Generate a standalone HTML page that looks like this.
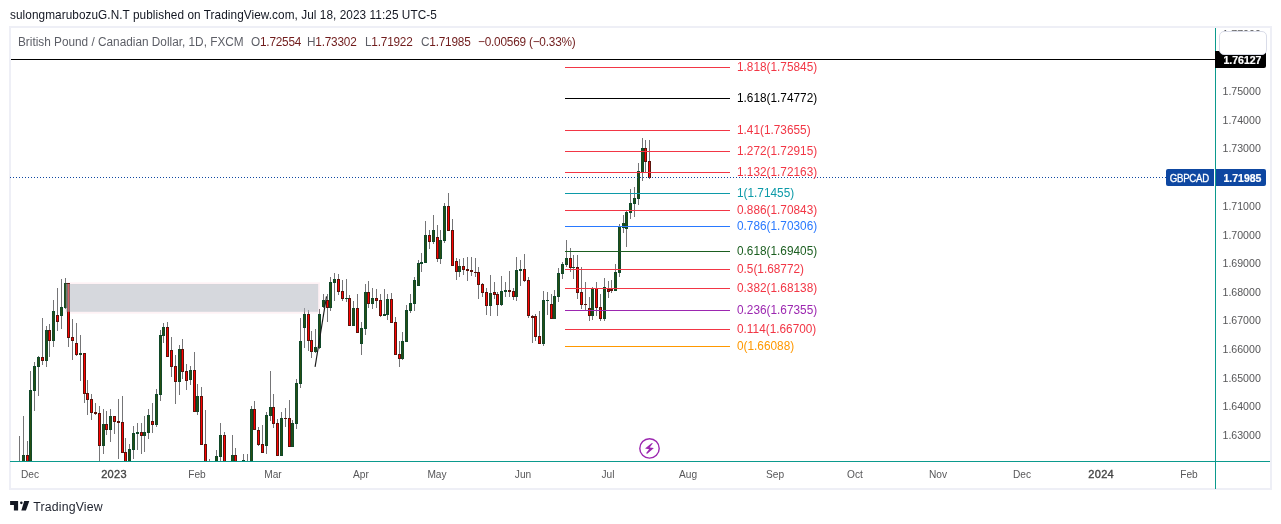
<!DOCTYPE html>
<html><head><meta charset="utf-8"><title>GBPCAD</title>
<style>
html,body{margin:0;padding:0;background:#fff;}
body{width:1281px;height:524px;position:relative;overflow:hidden;font-family:"Liberation Sans",sans-serif;}
div{position:absolute;white-space:nowrap;}
.L{left:0;top:0;width:1281px;height:524px;will-change:transform;}
#hdr{left:10px;top:6.7px;font-size:12.2px;line-height:16px;color:#131722;letter-spacing:0.07px;transform:scaleX(0.967);transform-origin:0 0;}
#frame{left:9px;top:26px;width:1259px;height:460px;border:2px solid #eeeff6;box-sizing:content-box;}
#leg{left:18.3px;top:34.3px;font-size:12.5px;line-height:16px;color:#5c5e66;transform:scaleX(0.944);transform-origin:0 0;}
.lg{top:34.3px;font-size:12.5px;line-height:16px;color:#5c5e66;letter-spacing:-0.22px;transform:scaleX(0.944);transform-origin:0 0;}
.lg span{color:#701c1c;}
.fib{left:736.7px;font-size:12.5px;letter-spacing:0.01px;transform:scaleX(0.944);transform-origin:0 0;margin-top:-0.3px;line-height:16px;height:16px;}
.pl{left:1222.5px;font-size:10.6px;line-height:16px;color:#575759;}
.tl{width:60px;text-align:center;top:466px;font-size:10.7px;line-height:16px;color:#575759;transform:scaleX(0.95);}
.tl.b{font-weight:normal;-webkit-text-stroke:0.35px #444;font-size:11px;letter-spacing:0.3px;color:#444;transform:none;}
#blk{left:1215px;top:51px;width:51px;height:17px;background:#000;border-radius:0 2px 2px 0;color:#fff;font-weight:bold;font-size:10.5px;-webkit-text-stroke:0.22px #fff;line-height:19px;overflow:hidden;}
#blk span{position:absolute;left:8.5px;top:0;}
#cur span{position:absolute;left:7.5px;top:0;}
#wbox{left:1219px;top:31px;width:46px;height:22px;background:#fff;border:1px solid #d9dce8;border-radius:5px;}
#sym{left:1166px;top:169px;width:48px;height:17px;background:#0e47a1;border-radius:2px 0 0 2px;color:#fff;font-size:11px;font-weight:normal;-webkit-text-stroke:0.3px #fff;line-height:18.6px;text-align:center;letter-spacing:-0.3px;padding-right:1.5px;box-sizing:border-box;overflow:hidden;}
#cur{left:1216px;top:169px;width:50px;height:17px;background:#0e47a1;border-radius:0 2px 2px 0;color:#fff;font-weight:bold;font-size:10.5px;-webkit-text-stroke:0.22px #fff;line-height:19px;overflow:hidden;}
#p177{left:1222.5px;top:26.4px;font-size:10.6px;line-height:16px;color:#575759;}
#logo{left:10px;top:500px;}
#lt{left:33.2px;top:498.8px;font-size:12.3px;line-height:16px;color:#1e222d;letter-spacing:0.18px;}
svg{position:absolute;left:0;top:0;}
</style></head><body>
<div class="L"><div id="hdr">sulongmarubozuG.N.T published on TradingView.com, Jul 18, 2023 11:25 UTC-5</div>
<div id="frame"></div>
<div id="leg">British Pound / Canadian Dollar, 1D, FXCM</div>
<div class="lg" style="left:250.7px">O<span>1.72554</span></div>
<div class="lg" style="left:307.4px">H<span>1.73302</span></div>
<div class="lg" style="left:364.6px">L<span>1.71922</span></div>
<div class="lg" style="left:420.7px">C<span>1.71985</span></div>
<div class="lg" style="left:477.6px"><span>&minus;0.00569 (&minus;0.33%)</span></div></div>
<svg width="1281" height="524" viewBox="0 0 1281 524" shape-rendering="crispEdges">
<!-- grey zone -->

<g id="candles">
<rect x="19" y="436" width="1" height="25" fill="#757577"/>
<rect x="23" y="416" width="1" height="45" fill="#757577"/>
<rect x="22" y="455" width="3" height="6" fill="#10492a"/>
<rect x="23" y="456" width="1" height="5" fill="#274f12"/>
<rect x="27" y="441" width="1" height="20" fill="#757577"/>
<rect x="26" y="455" width="3" height="6" fill="#5c140c"/>
<rect x="27" y="456" width="1" height="5" fill="#ff0000"/>
<rect x="30" y="371" width="1" height="90" fill="#757577"/>
<rect x="29" y="390" width="3" height="71" fill="#10492a"/>
<rect x="30" y="391" width="1" height="70" fill="#274f12"/>
<rect x="34" y="362" width="1" height="49" fill="#757577"/>
<rect x="33" y="366" width="3" height="25" fill="#10492a"/>
<rect x="34" y="367" width="1" height="23" fill="#274f12"/>
<rect x="38" y="356" width="1" height="40" fill="#757577"/>
<rect x="37" y="357" width="3" height="10" fill="#10492a"/>
<rect x="38" y="358" width="1" height="8" fill="#274f12"/>
<rect x="42" y="318" width="1" height="47" fill="#757577"/>
<rect x="41" y="357" width="3" height="4" fill="#5c140c"/>
<rect x="42" y="358" width="1" height="2" fill="#ff0000"/>
<rect x="46" y="326" width="1" height="41" fill="#757577"/>
<rect x="45" y="330" width="3" height="31" fill="#10492a"/>
<rect x="46" y="331" width="1" height="29" fill="#274f12"/>
<rect x="49" y="324" width="1" height="33" fill="#757577"/>
<rect x="48" y="330" width="3" height="11" fill="#5c140c"/>
<rect x="49" y="331" width="1" height="9" fill="#ff0000"/>
<rect x="53" y="300" width="1" height="47" fill="#757577"/>
<rect x="52" y="311" width="3" height="30" fill="#10492a"/>
<rect x="53" y="312" width="1" height="28" fill="#274f12"/>
<rect x="57" y="288" width="1" height="43" fill="#757577"/>
<rect x="56" y="315" width="3" height="7" fill="#5c140c"/>
<rect x="57" y="316" width="1" height="5" fill="#ff0000"/>
<rect x="61" y="279" width="1" height="50" fill="#757577"/>
<rect x="60" y="307" width="3" height="9" fill="#10492a"/>
<rect x="61" y="308" width="1" height="7" fill="#274f12"/>
<rect x="65" y="278" width="1" height="31" fill="#757577"/>
<rect x="64" y="283" width="3" height="25" fill="#10492a"/>
<rect x="65" y="284" width="1" height="23" fill="#274f12"/>
<rect x="68" y="283" width="1" height="64" fill="#757577"/>
<rect x="67" y="283" width="3" height="55" fill="#5c140c"/>
<rect x="68" y="284" width="1" height="53" fill="#ff0000"/>
<rect x="72" y="319" width="1" height="41" fill="#757577"/>
<rect x="71" y="337" width="3" height="4" fill="#5c140c"/>
<rect x="72" y="338" width="1" height="2" fill="#ff0000"/>
<rect x="76" y="323" width="1" height="33" fill="#757577"/>
<rect x="75" y="343" width="3" height="12" fill="#5c140c"/>
<rect x="76" y="344" width="1" height="10" fill="#ff0000"/>
<rect x="80" y="335" width="1" height="46" fill="#757577"/>
<rect x="79" y="353" width="3" height="2" fill="#10492a"/>
<rect x="84" y="353" width="1" height="50" fill="#757577"/>
<rect x="83" y="353" width="3" height="41" fill="#5c140c"/>
<rect x="84" y="354" width="1" height="39" fill="#ff0000"/>
<rect x="87" y="380" width="1" height="35" fill="#757577"/>
<rect x="86" y="393" width="3" height="7" fill="#5c140c"/>
<rect x="87" y="394" width="1" height="5" fill="#ff0000"/>
<rect x="91" y="394" width="1" height="26" fill="#757577"/>
<rect x="90" y="399" width="3" height="14" fill="#5c140c"/>
<rect x="91" y="400" width="1" height="12" fill="#ff0000"/>
<rect x="95" y="403" width="1" height="12" fill="#757577"/>
<rect x="94" y="412" width="3" height="2" fill="#5c140c"/>
<rect x="99" y="406" width="1" height="55" fill="#757577"/>
<rect x="98" y="413" width="3" height="33" fill="#5c140c"/>
<rect x="99" y="414" width="1" height="31" fill="#ff0000"/>
<rect x="103" y="409" width="1" height="45" fill="#757577"/>
<rect x="102" y="424" width="3" height="22" fill="#10492a"/>
<rect x="103" y="425" width="1" height="20" fill="#274f12"/>
<rect x="106" y="411" width="1" height="24" fill="#757577"/>
<rect x="105" y="424" width="3" height="6" fill="#5c140c"/>
<rect x="106" y="425" width="1" height="4" fill="#ff0000"/>
<rect x="110" y="409" width="1" height="33" fill="#757577"/>
<rect x="109" y="416" width="3" height="14" fill="#10492a"/>
<rect x="110" y="417" width="1" height="12" fill="#274f12"/>
<rect x="114" y="416" width="1" height="18" fill="#757577"/>
<rect x="113" y="416" width="3" height="6" fill="#5c140c"/>
<rect x="114" y="417" width="1" height="4" fill="#ff0000"/>
<rect x="118" y="399" width="1" height="60" fill="#757577"/>
<rect x="117" y="421" width="3" height="2" fill="#5c140c"/>
<rect x="122" y="396" width="1" height="57" fill="#757577"/>
<rect x="121" y="422" width="3" height="31" fill="#5c140c"/>
<rect x="122" y="423" width="1" height="29" fill="#ff0000"/>
<rect x="125" y="438" width="1" height="23" fill="#757577"/>
<rect x="124" y="452" width="3" height="9" fill="#5c140c"/>
<rect x="125" y="453" width="1" height="8" fill="#ff0000"/>
<rect x="129" y="444" width="1" height="17" fill="#757577"/>
<rect x="128" y="449" width="3" height="12" fill="#10492a"/>
<rect x="129" y="450" width="1" height="11" fill="#274f12"/>
<rect x="133" y="426" width="1" height="33" fill="#757577"/>
<rect x="132" y="433" width="3" height="17" fill="#10492a"/>
<rect x="133" y="434" width="1" height="15" fill="#274f12"/>
<rect x="137" y="423" width="1" height="27" fill="#757577"/>
<rect x="136" y="432" width="3" height="2" fill="#10492a"/>
<rect x="141" y="423" width="1" height="31" fill="#757577"/>
<rect x="140" y="432" width="3" height="4" fill="#5c140c"/>
<rect x="141" y="433" width="1" height="2" fill="#ff0000"/>
<rect x="144" y="416" width="1" height="36" fill="#757577"/>
<rect x="143" y="432" width="3" height="4" fill="#10492a"/>
<rect x="144" y="433" width="1" height="2" fill="#274f12"/>
<rect x="148" y="409" width="1" height="30" fill="#757577"/>
<rect x="147" y="415" width="3" height="18" fill="#10492a"/>
<rect x="148" y="416" width="1" height="16" fill="#274f12"/>
<rect x="152" y="403" width="1" height="30" fill="#757577"/>
<rect x="151" y="421" width="3" height="4" fill="#5c140c"/>
<rect x="152" y="422" width="1" height="2" fill="#ff0000"/>
<rect x="156" y="389" width="1" height="38" fill="#757577"/>
<rect x="155" y="394" width="3" height="31" fill="#10492a"/>
<rect x="156" y="395" width="1" height="29" fill="#274f12"/>
<rect x="160" y="330" width="1" height="71" fill="#757577"/>
<rect x="159" y="335" width="3" height="60" fill="#10492a"/>
<rect x="160" y="336" width="1" height="58" fill="#274f12"/>
<rect x="163" y="323" width="1" height="20" fill="#757577"/>
<rect x="162" y="327" width="3" height="9" fill="#10492a"/>
<rect x="163" y="328" width="1" height="7" fill="#274f12"/>
<rect x="167" y="322" width="1" height="35" fill="#757577"/>
<rect x="166" y="327" width="3" height="30" fill="#5c140c"/>
<rect x="167" y="328" width="1" height="28" fill="#ff0000"/>
<rect x="171" y="337" width="1" height="40" fill="#757577"/>
<rect x="170" y="350" width="3" height="17" fill="#5c140c"/>
<rect x="171" y="351" width="1" height="15" fill="#ff0000"/>
<rect x="175" y="355" width="1" height="49" fill="#757577"/>
<rect x="174" y="366" width="3" height="16" fill="#5c140c"/>
<rect x="175" y="367" width="1" height="14" fill="#ff0000"/>
<rect x="179" y="345" width="1" height="50" fill="#757577"/>
<rect x="178" y="349" width="3" height="33" fill="#10492a"/>
<rect x="179" y="350" width="1" height="31" fill="#274f12"/>
<rect x="182" y="339" width="1" height="40" fill="#757577"/>
<rect x="181" y="349" width="3" height="23" fill="#5c140c"/>
<rect x="182" y="350" width="1" height="21" fill="#ff0000"/>
<rect x="186" y="364" width="1" height="26" fill="#757577"/>
<rect x="185" y="371" width="3" height="10" fill="#5c140c"/>
<rect x="186" y="372" width="1" height="8" fill="#ff0000"/>
<rect x="190" y="366" width="1" height="19" fill="#757577"/>
<rect x="189" y="370" width="3" height="10" fill="#10492a"/>
<rect x="190" y="371" width="1" height="8" fill="#274f12"/>
<rect x="194" y="352" width="1" height="60" fill="#757577"/>
<rect x="193" y="370" width="3" height="42" fill="#5c140c"/>
<rect x="194" y="371" width="1" height="40" fill="#ff0000"/>
<rect x="197" y="384" width="1" height="31" fill="#757577"/>
<rect x="196" y="396" width="3" height="16" fill="#10492a"/>
<rect x="197" y="397" width="1" height="14" fill="#274f12"/>
<rect x="201" y="387" width="1" height="58" fill="#757577"/>
<rect x="200" y="396" width="3" height="49" fill="#5c140c"/>
<rect x="201" y="397" width="1" height="47" fill="#ff0000"/>
<rect x="205" y="410" width="1" height="51" fill="#757577"/>
<rect x="204" y="444" width="3" height="17" fill="#5c140c"/>
<rect x="205" y="445" width="1" height="16" fill="#ff0000"/>
<rect x="209" y="459" width="1" height="2" fill="#757577"/>
<rect x="216" y="450" width="1" height="11" fill="#757577"/>
<rect x="215" y="456" width="3" height="5" fill="#10492a"/>
<rect x="216" y="457" width="1" height="4" fill="#274f12"/>
<rect x="220" y="423" width="1" height="38" fill="#757577"/>
<rect x="219" y="435" width="3" height="22" fill="#10492a"/>
<rect x="220" y="436" width="1" height="20" fill="#274f12"/>
<rect x="224" y="432" width="1" height="29" fill="#757577"/>
<rect x="223" y="435" width="3" height="26" fill="#5c140c"/>
<rect x="224" y="436" width="1" height="25" fill="#ff0000"/>
<rect x="232" y="435" width="1" height="26" fill="#757577"/>
<rect x="231" y="455" width="3" height="6" fill="#10492a"/>
<rect x="232" y="456" width="1" height="5" fill="#274f12"/>
<rect x="235" y="448" width="1" height="13" fill="#757577"/>
<rect x="234" y="455" width="3" height="6" fill="#5c140c"/>
<rect x="235" y="456" width="1" height="5" fill="#ff0000"/>
<rect x="243" y="454" width="1" height="7" fill="#757577"/>
<rect x="242" y="460" width="3" height="1" fill="#10492a"/>
<rect x="247" y="454" width="1" height="7" fill="#757577"/>
<rect x="251" y="406" width="1" height="55" fill="#757577"/>
<rect x="250" y="409" width="3" height="52" fill="#10492a"/>
<rect x="251" y="410" width="1" height="51" fill="#274f12"/>
<rect x="254" y="401" width="1" height="29" fill="#757577"/>
<rect x="253" y="409" width="3" height="21" fill="#5c140c"/>
<rect x="254" y="410" width="1" height="19" fill="#ff0000"/>
<rect x="258" y="427" width="1" height="19" fill="#757577"/>
<rect x="257" y="430" width="3" height="15" fill="#5c140c"/>
<rect x="258" y="431" width="1" height="13" fill="#ff0000"/>
<rect x="262" y="425" width="1" height="28" fill="#757577"/>
<rect x="261" y="444" width="3" height="9" fill="#5c140c"/>
<rect x="262" y="445" width="1" height="7" fill="#ff0000"/>
<rect x="266" y="412" width="1" height="42" fill="#757577"/>
<rect x="265" y="415" width="3" height="31" fill="#10492a"/>
<rect x="266" y="416" width="1" height="29" fill="#274f12"/>
<rect x="270" y="371" width="1" height="50" fill="#757577"/>
<rect x="269" y="407" width="3" height="9" fill="#10492a"/>
<rect x="270" y="408" width="1" height="7" fill="#274f12"/>
<rect x="273" y="394" width="1" height="34" fill="#757577"/>
<rect x="272" y="407" width="3" height="17" fill="#5c140c"/>
<rect x="273" y="408" width="1" height="15" fill="#ff0000"/>
<rect x="277" y="419" width="1" height="37" fill="#757577"/>
<rect x="276" y="423" width="3" height="33" fill="#5c140c"/>
<rect x="277" y="424" width="1" height="31" fill="#ff0000"/>
<rect x="281" y="412" width="1" height="44" fill="#757577"/>
<rect x="280" y="418" width="3" height="38" fill="#10492a"/>
<rect x="281" y="419" width="1" height="36" fill="#274f12"/>
<rect x="285" y="408" width="1" height="19" fill="#757577"/>
<rect x="284" y="418" width="3" height="1" fill="#5c140c"/>
<rect x="289" y="400" width="1" height="47" fill="#757577"/>
<rect x="288" y="418" width="3" height="29" fill="#5c140c"/>
<rect x="289" y="419" width="1" height="27" fill="#ff0000"/>
<rect x="292" y="420" width="1" height="27" fill="#757577"/>
<rect x="291" y="423" width="3" height="24" fill="#10492a"/>
<rect x="292" y="424" width="1" height="22" fill="#274f12"/>
<rect x="296" y="379" width="1" height="50" fill="#757577"/>
<rect x="295" y="383" width="3" height="41" fill="#10492a"/>
<rect x="296" y="384" width="1" height="39" fill="#274f12"/>
<rect x="300" y="318" width="1" height="70" fill="#757577"/>
<rect x="299" y="341" width="3" height="43" fill="#10492a"/>
<rect x="300" y="342" width="1" height="41" fill="#274f12"/>
<rect x="304" y="308" width="1" height="40" fill="#757577"/>
<rect x="303" y="314" width="3" height="14" fill="#10492a"/>
<rect x="304" y="315" width="1" height="12" fill="#274f12"/>
<rect x="308" y="310" width="1" height="41" fill="#757577"/>
<rect x="307" y="314" width="3" height="27" fill="#5c140c"/>
<rect x="308" y="315" width="1" height="25" fill="#ff0000"/>
<rect x="311" y="331" width="1" height="27" fill="#757577"/>
<rect x="310" y="340" width="3" height="12" fill="#5c140c"/>
<rect x="311" y="341" width="1" height="10" fill="#ff0000"/>
<rect x="315" y="329" width="1" height="24" fill="#757577"/>
<rect x="314" y="347" width="3" height="5" fill="#10492a"/>
<rect x="315" y="348" width="1" height="3" fill="#274f12"/>
<rect x="319" y="309" width="1" height="40" fill="#757577"/>
<rect x="318" y="314" width="3" height="34" fill="#10492a"/>
<rect x="319" y="315" width="1" height="32" fill="#274f12"/>
<rect x="323" y="294" width="1" height="14" fill="#757577"/>
<rect x="322" y="300" width="3" height="7" fill="#10492a"/>
<rect x="323" y="301" width="1" height="5" fill="#274f12"/>
<rect x="327" y="294" width="1" height="28" fill="#757577"/>
<rect x="326" y="300" width="3" height="8" fill="#5c140c"/>
<rect x="327" y="301" width="1" height="6" fill="#ff0000"/>
<rect x="330" y="277" width="1" height="34" fill="#757577"/>
<rect x="329" y="282" width="3" height="26" fill="#10492a"/>
<rect x="330" y="283" width="1" height="24" fill="#274f12"/>
<rect x="334" y="273" width="1" height="28" fill="#757577"/>
<rect x="333" y="279" width="3" height="4" fill="#10492a"/>
<rect x="334" y="280" width="1" height="2" fill="#274f12"/>
<rect x="338" y="274" width="1" height="21" fill="#757577"/>
<rect x="337" y="279" width="3" height="13" fill="#5c140c"/>
<rect x="338" y="280" width="1" height="11" fill="#ff0000"/>
<rect x="342" y="280" width="1" height="21" fill="#757577"/>
<rect x="341" y="291" width="3" height="8" fill="#5c140c"/>
<rect x="342" y="292" width="1" height="6" fill="#ff0000"/>
<rect x="346" y="279" width="1" height="23" fill="#757577"/>
<rect x="345" y="298" width="3" height="1" fill="#10492a"/>
<rect x="349" y="295" width="1" height="31" fill="#757577"/>
<rect x="348" y="298" width="3" height="28" fill="#5c140c"/>
<rect x="349" y="299" width="1" height="26" fill="#ff0000"/>
<rect x="353" y="301" width="1" height="25" fill="#757577"/>
<rect x="352" y="308" width="3" height="18" fill="#10492a"/>
<rect x="353" y="309" width="1" height="16" fill="#274f12"/>
<rect x="357" y="294" width="1" height="39" fill="#757577"/>
<rect x="356" y="308" width="3" height="25" fill="#5c140c"/>
<rect x="357" y="309" width="1" height="23" fill="#ff0000"/>
<rect x="361" y="322" width="1" height="33" fill="#757577"/>
<rect x="360" y="328" width="3" height="16" fill="#10492a"/>
<rect x="361" y="329" width="1" height="14" fill="#274f12"/>
<rect x="365" y="284" width="1" height="51" fill="#757577"/>
<rect x="364" y="292" width="3" height="37" fill="#10492a"/>
<rect x="365" y="293" width="1" height="35" fill="#274f12"/>
<rect x="368" y="281" width="1" height="27" fill="#757577"/>
<rect x="367" y="292" width="3" height="12" fill="#5c140c"/>
<rect x="368" y="293" width="1" height="10" fill="#ff0000"/>
<rect x="372" y="288" width="1" height="21" fill="#757577"/>
<rect x="371" y="298" width="3" height="6" fill="#10492a"/>
<rect x="372" y="299" width="1" height="4" fill="#274f12"/>
<rect x="376" y="289" width="1" height="19" fill="#757577"/>
<rect x="375" y="298" width="3" height="3" fill="#5c140c"/>
<rect x="376" y="299" width="1" height="1" fill="#ff0000"/>
<rect x="380" y="294" width="1" height="23" fill="#757577"/>
<rect x="379" y="300" width="3" height="16" fill="#5c140c"/>
<rect x="380" y="301" width="1" height="14" fill="#ff0000"/>
<rect x="384" y="289" width="1" height="27" fill="#757577"/>
<rect x="383" y="314" width="3" height="2" fill="#10492a"/>
<rect x="387" y="294" width="1" height="26" fill="#757577"/>
<rect x="386" y="299" width="3" height="16" fill="#10492a"/>
<rect x="387" y="300" width="1" height="14" fill="#274f12"/>
<rect x="391" y="293" width="1" height="30" fill="#757577"/>
<rect x="390" y="299" width="3" height="24" fill="#5c140c"/>
<rect x="391" y="300" width="1" height="22" fill="#ff0000"/>
<rect x="395" y="317" width="1" height="38" fill="#757577"/>
<rect x="394" y="322" width="3" height="33" fill="#5c140c"/>
<rect x="395" y="323" width="1" height="31" fill="#ff0000"/>
<rect x="399" y="341" width="1" height="26" fill="#757577"/>
<rect x="398" y="354" width="3" height="5" fill="#5c140c"/>
<rect x="399" y="355" width="1" height="3" fill="#ff0000"/>
<rect x="402" y="332" width="1" height="28" fill="#757577"/>
<rect x="401" y="341" width="3" height="18" fill="#10492a"/>
<rect x="402" y="342" width="1" height="16" fill="#274f12"/>
<rect x="406" y="305" width="1" height="37" fill="#757577"/>
<rect x="405" y="310" width="3" height="32" fill="#10492a"/>
<rect x="406" y="311" width="1" height="30" fill="#274f12"/>
<rect x="410" y="294" width="1" height="19" fill="#757577"/>
<rect x="409" y="303" width="3" height="8" fill="#10492a"/>
<rect x="410" y="304" width="1" height="6" fill="#274f12"/>
<rect x="414" y="277" width="1" height="34" fill="#757577"/>
<rect x="413" y="280" width="3" height="24" fill="#10492a"/>
<rect x="414" y="281" width="1" height="22" fill="#274f12"/>
<rect x="418" y="260" width="1" height="26" fill="#757577"/>
<rect x="417" y="263" width="3" height="23" fill="#10492a"/>
<rect x="418" y="264" width="1" height="21" fill="#274f12"/>
<rect x="421" y="253" width="1" height="19" fill="#757577"/>
<rect x="420" y="262" width="3" height="2" fill="#10492a"/>
<rect x="425" y="221" width="1" height="42" fill="#757577"/>
<rect x="424" y="235" width="3" height="28" fill="#10492a"/>
<rect x="425" y="236" width="1" height="26" fill="#274f12"/>
<rect x="429" y="230" width="1" height="19" fill="#757577"/>
<rect x="428" y="235" width="3" height="7" fill="#5c140c"/>
<rect x="429" y="236" width="1" height="5" fill="#ff0000"/>
<rect x="433" y="215" width="1" height="29" fill="#757577"/>
<rect x="432" y="230" width="3" height="12" fill="#10492a"/>
<rect x="433" y="231" width="1" height="10" fill="#274f12"/>
<rect x="437" y="225" width="1" height="37" fill="#757577"/>
<rect x="436" y="237" width="3" height="22" fill="#5c140c"/>
<rect x="437" y="238" width="1" height="20" fill="#ff0000"/>
<rect x="440" y="230" width="1" height="34" fill="#757577"/>
<rect x="439" y="240" width="3" height="19" fill="#10492a"/>
<rect x="440" y="241" width="1" height="17" fill="#274f12"/>
<rect x="444" y="203" width="1" height="40" fill="#757577"/>
<rect x="443" y="206" width="3" height="35" fill="#10492a"/>
<rect x="444" y="207" width="1" height="33" fill="#274f12"/>
<rect x="448" y="193" width="1" height="38" fill="#757577"/>
<rect x="447" y="206" width="3" height="25" fill="#5c140c"/>
<rect x="448" y="207" width="1" height="23" fill="#ff0000"/>
<rect x="452" y="219" width="1" height="47" fill="#757577"/>
<rect x="451" y="230" width="3" height="36" fill="#5c140c"/>
<rect x="452" y="231" width="1" height="34" fill="#ff0000"/>
<rect x="456" y="258" width="1" height="22" fill="#757577"/>
<rect x="455" y="261" width="3" height="11" fill="#5c140c"/>
<rect x="456" y="262" width="1" height="9" fill="#ff0000"/>
<rect x="459" y="259" width="1" height="18" fill="#757577"/>
<rect x="458" y="266" width="3" height="6" fill="#10492a"/>
<rect x="459" y="267" width="1" height="4" fill="#274f12"/>
<rect x="463" y="258" width="1" height="17" fill="#757577"/>
<rect x="462" y="266" width="3" height="4" fill="#5c140c"/>
<rect x="463" y="267" width="1" height="2" fill="#ff0000"/>
<rect x="467" y="257" width="1" height="24" fill="#757577"/>
<rect x="466" y="269" width="3" height="2" fill="#5c140c"/>
<rect x="471" y="257" width="1" height="19" fill="#757577"/>
<rect x="470" y="270" width="3" height="2" fill="#5c140c"/>
<rect x="475" y="258" width="1" height="19" fill="#757577"/>
<rect x="474" y="272" width="3" height="1" fill="#5c140c"/>
<rect x="478" y="267" width="1" height="32" fill="#757577"/>
<rect x="477" y="272" width="3" height="13" fill="#5c140c"/>
<rect x="478" y="273" width="1" height="11" fill="#ff0000"/>
<rect x="482" y="283" width="1" height="14" fill="#757577"/>
<rect x="481" y="284" width="3" height="9" fill="#5c140c"/>
<rect x="482" y="285" width="1" height="7" fill="#ff0000"/>
<rect x="486" y="288" width="1" height="27" fill="#757577"/>
<rect x="485" y="292" width="3" height="14" fill="#5c140c"/>
<rect x="486" y="293" width="1" height="12" fill="#ff0000"/>
<rect x="490" y="275" width="1" height="41" fill="#757577"/>
<rect x="489" y="293" width="3" height="13" fill="#10492a"/>
<rect x="490" y="294" width="1" height="11" fill="#274f12"/>
<rect x="494" y="282" width="1" height="17" fill="#757577"/>
<rect x="493" y="292" width="3" height="3" fill="#5c140c"/>
<rect x="494" y="293" width="1" height="1" fill="#ff0000"/>
<rect x="497" y="292" width="1" height="24" fill="#757577"/>
<rect x="496" y="294" width="3" height="11" fill="#5c140c"/>
<rect x="497" y="295" width="1" height="9" fill="#ff0000"/>
<rect x="501" y="276" width="1" height="30" fill="#757577"/>
<rect x="500" y="291" width="3" height="14" fill="#10492a"/>
<rect x="501" y="292" width="1" height="12" fill="#274f12"/>
<rect x="505" y="282" width="1" height="15" fill="#757577"/>
<rect x="504" y="290" width="3" height="2" fill="#10492a"/>
<rect x="509" y="271" width="1" height="26" fill="#757577"/>
<rect x="508" y="290" width="3" height="2" fill="#5c140c"/>
<rect x="513" y="288" width="1" height="12" fill="#757577"/>
<rect x="512" y="291" width="3" height="6" fill="#5c140c"/>
<rect x="513" y="292" width="1" height="4" fill="#ff0000"/>
<rect x="516" y="257" width="1" height="44" fill="#757577"/>
<rect x="515" y="270" width="3" height="27" fill="#10492a"/>
<rect x="516" y="271" width="1" height="25" fill="#274f12"/>
<rect x="520" y="260" width="1" height="26" fill="#757577"/>
<rect x="519" y="269" width="3" height="2" fill="#10492a"/>
<rect x="524" y="254" width="1" height="28" fill="#757577"/>
<rect x="523" y="269" width="3" height="12" fill="#5c140c"/>
<rect x="524" y="270" width="1" height="10" fill="#ff0000"/>
<rect x="528" y="277" width="1" height="41" fill="#757577"/>
<rect x="527" y="280" width="3" height="36" fill="#5c140c"/>
<rect x="528" y="281" width="1" height="34" fill="#ff0000"/>
<rect x="532" y="315" width="1" height="28" fill="#757577"/>
<rect x="531" y="316" width="3" height="2" fill="#5c140c"/>
<rect x="535" y="314" width="1" height="27" fill="#757577"/>
<rect x="534" y="316" width="3" height="21" fill="#5c140c"/>
<rect x="535" y="317" width="1" height="19" fill="#ff0000"/>
<rect x="539" y="311" width="1" height="33" fill="#757577"/>
<rect x="538" y="336" width="3" height="8" fill="#5c140c"/>
<rect x="539" y="337" width="1" height="6" fill="#ff0000"/>
<rect x="543" y="291" width="1" height="55" fill="#757577"/>
<rect x="542" y="300" width="3" height="44" fill="#10492a"/>
<rect x="543" y="301" width="1" height="42" fill="#274f12"/>
<rect x="547" y="292" width="1" height="23" fill="#757577"/>
<rect x="546" y="300" width="3" height="1" fill="#10492a"/>
<rect x="551" y="294" width="1" height="25" fill="#757577"/>
<rect x="550" y="304" width="3" height="15" fill="#5c140c"/>
<rect x="551" y="305" width="1" height="13" fill="#ff0000"/>
<rect x="554" y="290" width="1" height="29" fill="#757577"/>
<rect x="553" y="296" width="3" height="23" fill="#10492a"/>
<rect x="554" y="297" width="1" height="21" fill="#274f12"/>
<rect x="558" y="268" width="1" height="34" fill="#757577"/>
<rect x="557" y="273" width="3" height="24" fill="#10492a"/>
<rect x="558" y="274" width="1" height="22" fill="#274f12"/>
<rect x="562" y="262" width="1" height="17" fill="#757577"/>
<rect x="561" y="264" width="3" height="10" fill="#10492a"/>
<rect x="562" y="265" width="1" height="8" fill="#274f12"/>
<rect x="566" y="240" width="1" height="27" fill="#757577"/>
<rect x="565" y="258" width="3" height="7" fill="#10492a"/>
<rect x="566" y="259" width="1" height="5" fill="#274f12"/>
<rect x="570" y="248" width="1" height="24" fill="#757577"/>
<rect x="569" y="258" width="3" height="10" fill="#5c140c"/>
<rect x="570" y="259" width="1" height="8" fill="#ff0000"/>
<rect x="573" y="255" width="1" height="24" fill="#757577"/>
<rect x="572" y="267" width="3" height="1" fill="#10492a"/>
<rect x="577" y="255" width="1" height="44" fill="#757577"/>
<rect x="576" y="267" width="3" height="26" fill="#5c140c"/>
<rect x="577" y="268" width="1" height="24" fill="#ff0000"/>
<rect x="581" y="267" width="1" height="42" fill="#757577"/>
<rect x="580" y="292" width="3" height="13" fill="#5c140c"/>
<rect x="581" y="293" width="1" height="11" fill="#ff0000"/>
<rect x="585" y="282" width="1" height="28" fill="#757577"/>
<rect x="584" y="304" width="3" height="1" fill="#5c140c"/>
<rect x="589" y="297" width="1" height="24" fill="#757577"/>
<rect x="588" y="308" width="3" height="8" fill="#5c140c"/>
<rect x="589" y="309" width="1" height="6" fill="#ff0000"/>
<rect x="592" y="287" width="1" height="33" fill="#757577"/>
<rect x="591" y="288" width="3" height="28" fill="#10492a"/>
<rect x="592" y="289" width="1" height="26" fill="#274f12"/>
<rect x="596" y="282" width="1" height="34" fill="#757577"/>
<rect x="595" y="288" width="3" height="20" fill="#5c140c"/>
<rect x="596" y="289" width="1" height="18" fill="#ff0000"/>
<rect x="600" y="294" width="1" height="27" fill="#757577"/>
<rect x="599" y="307" width="3" height="12" fill="#5c140c"/>
<rect x="600" y="308" width="1" height="10" fill="#ff0000"/>
<rect x="604" y="278" width="1" height="43" fill="#757577"/>
<rect x="603" y="287" width="3" height="32" fill="#10492a"/>
<rect x="604" y="288" width="1" height="30" fill="#274f12"/>
<rect x="608" y="281" width="1" height="17" fill="#757577"/>
<rect x="607" y="289" width="3" height="3" fill="#5c140c"/>
<rect x="608" y="290" width="1" height="1" fill="#ff0000"/>
<rect x="611" y="280" width="1" height="13" fill="#757577"/>
<rect x="610" y="289" width="3" height="2" fill="#5c140c"/>
<rect x="615" y="264" width="1" height="27" fill="#757577"/>
<rect x="614" y="272" width="3" height="19" fill="#10492a"/>
<rect x="615" y="273" width="1" height="17" fill="#274f12"/>
<rect x="619" y="224" width="1" height="53" fill="#757577"/>
<rect x="618" y="226" width="3" height="47" fill="#10492a"/>
<rect x="619" y="227" width="1" height="45" fill="#274f12"/>
<rect x="623" y="215" width="1" height="18" fill="#757577"/>
<rect x="622" y="223" width="3" height="5" fill="#10492a"/>
<rect x="623" y="224" width="1" height="3" fill="#274f12"/>
<rect x="626" y="210" width="1" height="37" fill="#757577"/>
<rect x="625" y="212" width="3" height="17" fill="#10492a"/>
<rect x="626" y="213" width="1" height="15" fill="#274f12"/>
<rect x="630" y="189" width="1" height="30" fill="#757577"/>
<rect x="629" y="203" width="3" height="10" fill="#10492a"/>
<rect x="630" y="204" width="1" height="8" fill="#274f12"/>
<rect x="634" y="187" width="1" height="30" fill="#757577"/>
<rect x="633" y="198" width="3" height="6" fill="#10492a"/>
<rect x="634" y="199" width="1" height="4" fill="#274f12"/>
<rect x="638" y="163" width="1" height="42" fill="#757577"/>
<rect x="637" y="171" width="3" height="28" fill="#10492a"/>
<rect x="638" y="172" width="1" height="26" fill="#274f12"/>
<rect x="642" y="138" width="1" height="43" fill="#757577"/>
<rect x="641" y="148" width="3" height="24" fill="#10492a"/>
<rect x="642" y="149" width="1" height="22" fill="#274f12"/>
<rect x="645" y="140" width="1" height="32" fill="#757577"/>
<rect x="644" y="148" width="3" height="14" fill="#5c140c"/>
<rect x="645" y="149" width="1" height="12" fill="#ff0000"/>
<rect x="649" y="140" width="1" height="39" fill="#757577"/>
<rect x="648" y="161" width="3" height="17" fill="#5c140c"/>
<rect x="649" y="162" width="1" height="15" fill="#ff0000"/>
</g>
<rect x="65.5" y="283.3" width="253.5" height="29.4" fill="none" stroke="#ff4d79" stroke-opacity="0.075" stroke-width="2" shape-rendering="auto"/>
<rect x="66" y="284" width="252.2" height="27.8" fill="#b2b5be" fill-opacity="0.53" shape-rendering="auto"/>
<line x1="315.1" y1="366.8" x2="326.5" y2="296.4" stroke="#1a1a1a" stroke-width="1.15" shape-rendering="auto"/>
<!-- fib lines -->
<rect x="565" y="67" width="165" height="1" fill="#f23645"/>
<rect x="565" y="98" width="165" height="1" fill="#000000"/>
<rect x="565" y="130" width="165" height="1" fill="#f23645"/>
<rect x="565" y="151" width="165" height="1" fill="#f23645"/>
<rect x="565" y="172" width="165" height="1" fill="#f23645"/>
<rect x="565" y="193" width="165" height="1" fill="#0c9aa8"/>
<rect x="565" y="210" width="165" height="1" fill="#f23645"/>
<rect x="565" y="226" width="165" height="1" fill="#2979ff"/>
<rect x="565" y="251" width="165" height="1" fill="#1b5e20"/>
<rect x="565" y="269" width="165" height="1" fill="#f23645"/>
<rect x="565" y="288" width="165" height="1" fill="#f23645"/>
<rect x="565" y="310" width="165" height="1" fill="#9c27b0"/>
<rect x="565" y="329" width="165" height="1" fill="#f23645"/>
<rect x="565" y="346" width="165" height="1" fill="#ff9800"/>
<!-- horizontal black line -->
<rect x="11" y="59" width="1205" height="1" fill="#000"/>
<!-- current price dotted -->
<line x1="10" y1="177.5" x2="1166" y2="177.5" stroke="#0e47a1" stroke-width="1" stroke-dasharray="1 2"/>
<!-- axes -->
<rect x="10" y="461" width="1260" height="1" fill="#0b9a8d"/>
<rect x="1215" y="27.5" width="1" height="461" fill="#0b9a8d"/>
<!-- lightning -->
<g shape-rendering="auto" transform="translate(649.5 448.4)">
<circle r="9.7" fill="none" stroke="#9c27b0" stroke-width="1.4"/>
<path d="M2.0,-5.2 L3.45,-5.4 L0.2,-1.0 L4.4,-0.45 L-2.2,5.3 L-3.5,4.9 L-0.35,0.85 L-4.5,0.2 Z" fill="#9c27b0"/>
</g>
</svg>
<div class="L"><div class="fib" style="top:59px;color:#f23645">1.818(1.75845)</div>
<div class="fib" style="top:90px;color:#000000">1.618(1.74772)</div>
<div class="fib" style="top:122px;color:#f23645">1.41(1.73655)</div>
<div class="fib" style="top:143px;color:#f23645">1.272(1.72915)</div>
<div class="fib" style="top:164px;color:#f23645">1.132(1.72163)</div>
<div class="fib" style="top:185px;color:#0c9aa8">1(1.71455)</div>
<div class="fib" style="top:202px;color:#f23645">0.886(1.70843)</div>
<div class="fib" style="top:218px;color:#2979ff">0.786(1.70306)</div>
<div class="fib" style="top:243px;color:#1b5e20">0.618(1.69405)</div>
<div class="fib" style="top:261px;color:#f23645">0.5(1.68772)</div>
<div class="fib" style="top:280px;color:#f23645">0.382(1.68138)</div>
<div class="fib" style="top:302px;color:#9c27b0">0.236(1.67355)</div>
<div class="fib" style="top:321px;color:#f23645">0.114(1.66700)</div>
<div class="fib" style="top:338px;color:#ff9800">0(1.66088)</div>
<div id="p177">1.77000</div>
<div class="pl" style="top:83px">1.75000</div>
<div class="pl" style="top:112px">1.74000</div>
<div class="pl" style="top:140px">1.73000</div>
<div class="pl" style="top:198px">1.71000</div>
<div class="pl" style="top:227px">1.70000</div>
<div class="pl" style="top:255px">1.69000</div>
<div class="pl" style="top:284px">1.68000</div>
<div class="pl" style="top:312px">1.67000</div>
<div class="pl" style="top:341px">1.66000</div>
<div class="pl" style="top:370px">1.65000</div>
<div class="pl" style="top:398px">1.64000</div>
<div class="pl" style="top:427px">1.63000</div>
<div class="tl" style="left:0px">Dec</div>
<div class="tl b" style="left:84px">2023</div>
<div class="tl" style="left:167px">Feb</div>
<div class="tl" style="left:243px">Mar</div>
<div class="tl" style="left:330.7px">Apr</div>
<div class="tl" style="left:406.8px">May</div>
<div class="tl" style="left:493px">Jun</div>
<div class="tl" style="left:577.5px">Jul</div>
<div class="tl" style="left:657.5px">Aug</div>
<div class="tl" style="left:744.5px">Sep</div>
<div class="tl" style="left:824.5px">Oct</div>
<div class="tl" style="left:908px">Nov</div>
<div class="tl" style="left:992px">Dec</div>
<div class="tl b" style="left:1071.2px">2024</div>
<div class="tl" style="left:1158.5px">Feb</div>
<div id="blk"><span>1.76127</span></div>
<div id="wbox"></div>
<div id="sym"><span style="display:inline-block;transform:scaleX(0.875);transform-origin:50% 50%">GBPCAD</span></div>
<div id="cur"><span>1.71985</span></div>
<svg width="1281" height="524" viewBox="0 0 1281 524"><path d="M10.1,501.1 H18.1 V510.6 H13.9 V504.9 H10.1 Z M24.2,501.1 H29.3 L25.9,510.6 H21.3 Z" fill="#131722"/><circle cx="21.35" cy="502.85" r="1.3" fill="#131722"/></svg>
<div id="lt">TradingView</div></div>
</body></html>
